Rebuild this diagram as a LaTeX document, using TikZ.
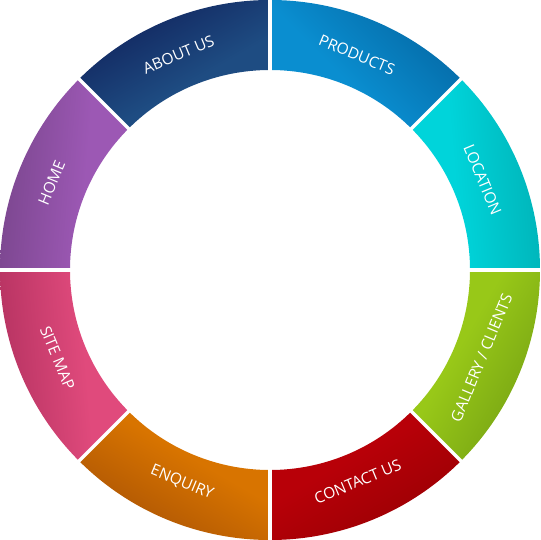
\documentclass[tikz,border=0pt]{standalone}
\usepackage{fontspec}
\setmainfont{Open Sans}
\pgfdeclareverticalshading[segL,segD]{segshade}{100bp}{color(0bp)=(segL); color(42bp)=(segL); color(100bp)=(segD)}
\begin{document}
\begin{tikzpicture}[x=1pt,y=1pt,
  lbl/.style={text=white,font=\fontsize{15.5}{16}\selectfont,inner sep=0pt}]
\useasboundingbox (-270,-270) rectangle (270,270);
\def\rin{200}\def\rout{270}
\definecolor{prL}{HTML}{0A8ED0}\definecolor{prD}{HTML}{004C84}
\definecolor{loL}{HTML}{00D4DA}\definecolor{loD}{HTML}{009A9E}
\definecolor{gaL}{HTML}{98C818}\definecolor{gaD}{HTML}{5A8410}
\definecolor{coL}{HTML}{B80008}\definecolor{coD}{HTML}{800000}
\definecolor{enL}{HTML}{D87400}\definecolor{enD}{HTML}{843808}
\definecolor{siL}{HTML}{E04A7C}\definecolor{siD}{HTML}{94204C}
\definecolor{hoL}{HTML}{9C58B4}\definecolor{hoD}{HTML}{603870}
\definecolor{abL}{HTML}{1E4C82}\definecolor{abD}{HTML}{06023E}
\colorlet{segL}{white}\colorlet{segD}{black}
\foreach \a/\b/\cl/\cd/\phi in {
  90/45/prL/prD/45, 45/0/loL/loD/5, 0/-45/gaL/gaD/-30, -45/-90/coL/coD/-60,
  -90/-135/enL/enD/-120, -135/-180/siL/siD/-175, 180/135/hoL/hoD/175, 135/90/abL/abD/120}{
  \pgfmathsetmacro\sa{\phi-90}
  \colorlet{segL}{\cl}\colorlet{segD}{\cd}
  \shade[shading=segshade, shading angle=\sa]
    (\a:\rin) arc[start angle=\a, end angle=\b, radius=\rin]
    -- (\b:\rout) arc[start angle=\b, end angle=\a, radius=\rout] -- cycle;
}
\foreach \t in {0,45,...,315}{
  \draw[white,line width=3.2pt] (\t:\rin-2) -- (\t:\rout+2);
}
\node[lbl,rotate=-22.5] (products) at (68:232) {PRODUCTS};
\node[lbl,rotate=-67.5] (location) at (23:231) {LOCATION};
\node[lbl,rotate=67.5] (gallery) at (-22.5:229) {GALLERY / CLIENTS};
\node[lbl,rotate=22.5] (contact) at (-67.5:229) {CONTACT US};
\node[lbl,rotate=-22.5] (enquiry) at (-112.5:230) {ENQUIRY};
\node[lbl,rotate=-67.5] (sitemap) at (-157.5:230) {SITE MAP};
\node[lbl,rotate=67.5] (home) at (158.3:235) {HOME};
\node[lbl,rotate=22.5] (about) at (113:234) {ABOUT US};
\end{tikzpicture}
\end{document}
